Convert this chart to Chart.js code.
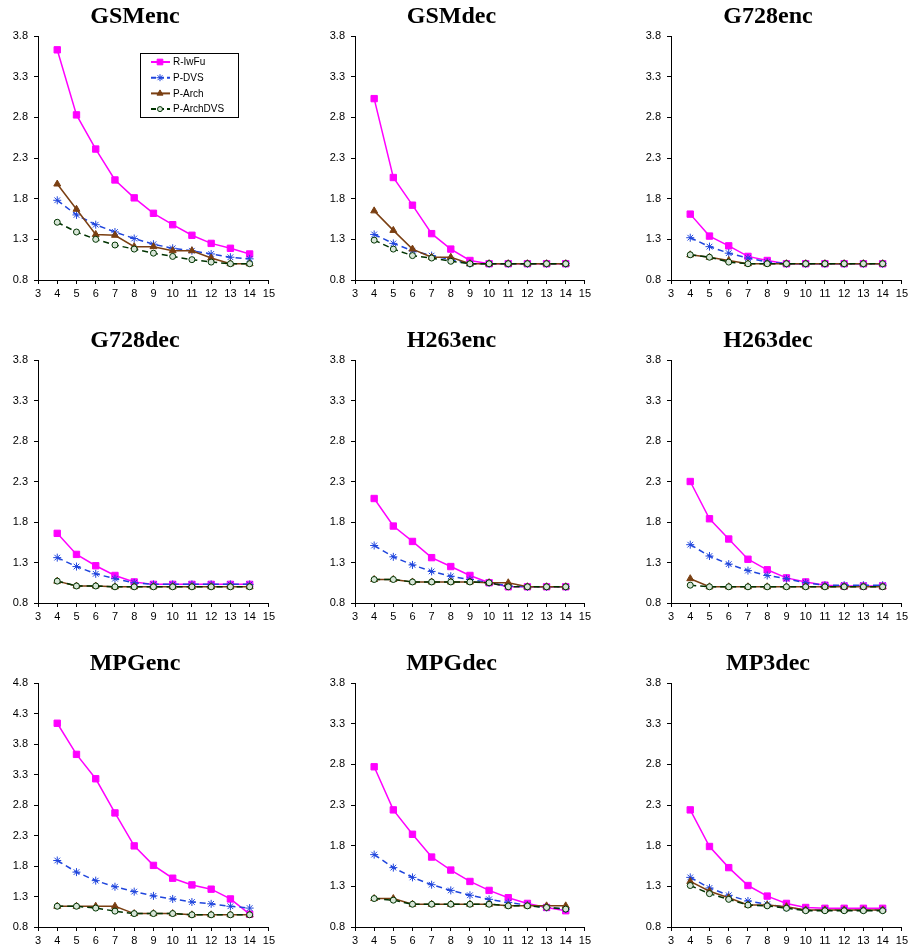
<!DOCTYPE html>
<html>
<head>
<meta charset="utf-8">
<title>Energy ratio by configuration</title>
<script src="https://cdn.jsdelivr.net/npm/chart.js@4/dist/chart.umd.min.js"></script>
<style>
  html, body { margin: 0; padding: 0; background: #fff; overflow: hidden; }
  body { width: 909px; height: 949px; position: relative; }
  .cell { position: absolute; }
</style>
</head>
<body>
<script>
// x positions shared by all panels
const xValues = [4, 5, 6, 7, 8, 9, 10, 11, 12, 13, 14];
const xTickValues = [3, 4, 5, 6, 7, 8, 9, 10, 11, 12, 13, 14, 15];
const yTickValues = [0.8, 1.3, 1.8, 2.3, 2.8, 3.3, 3.8];
const yTickValuesWide = [0.8, 1.3, 1.8, 2.3, 2.8, 3.3, 3.8, 4.3, 4.8];

const seriesNames = ['R-IwFu', 'P-DVS', 'P-Arch', 'P-ArchDVS'];

// GSMenc
const gsmencRIwFu     = [3.63, 2.83, 2.41, 2.03, 1.81, 1.62, 1.48, 1.35, 1.25, 1.19, 1.12];
const gsmencPDvs      = [1.78, 1.60, 1.48, 1.39, 1.31, 1.24, 1.19, 1.16, 1.12, 1.08, 1.06];
const gsmencPArch     = [1.98, 1.67, 1.36, 1.35, 1.21, 1.21, 1.16, 1.16, 1.07, 1.00, 1.00];
const gsmencPArchDvs  = [1.51, 1.39, 1.30, 1.23, 1.18, 1.13, 1.09, 1.05, 1.02, 1.00, 1.00];

// GSMdec
const gsmdecRIwFu     = [3.03, 2.06, 1.72, 1.37, 1.18, 1.04, 1.00, 1.00, 1.00, 1.00, 1.00];
const gsmdecPDvs      = [1.36, 1.25, 1.16, 1.10, 1.05, 1.00, 1.00, 1.00, 1.00, 1.00, 1.00];
const gsmdecPArch     = [1.65, 1.41, 1.18, 1.08, 1.08, 1.00, 1.00, 1.00, 1.00, 1.00, 1.00];
const gsmdecPArchDvs  = [1.29, 1.18, 1.10, 1.07, 1.03, 1.00, 1.00, 1.00, 1.00, 1.00, 1.00];

// G728enc
const g728encRIwFu    = [1.61, 1.34, 1.22, 1.09, 1.04, 1.00, 1.00, 1.00, 1.00, 1.00, 1.00];
const g728encPDvs     = [1.32, 1.21, 1.13, 1.07, 1.02, 1.00, 1.00, 1.00, 1.00, 1.00, 1.00];
const g728encPArch    = [1.11, 1.08, 1.04, 1.00, 1.00, 1.00, 1.00, 1.00, 1.00, 1.00, 1.00];
const g728encPArchDvs = [1.11, 1.08, 1.02, 1.00, 1.00, 1.00, 1.00, 1.00, 1.00, 1.00, 1.00];

// G728dec
const g728decRIwFu    = [1.66, 1.40, 1.26, 1.14, 1.06, 1.03, 1.03, 1.03, 1.03, 1.03, 1.03];
const g728decPDvs     = [1.36, 1.25, 1.16, 1.10, 1.05, 1.03, 1.03, 1.03, 1.03, 1.03, 1.03];
const g728decPArch    = [1.07, 1.01, 1.01, 1.00, 1.00, 1.00, 1.00, 1.00, 1.00, 1.00, 1.00];
const g728decPArchDvs = [1.07, 1.01, 1.01, 1.00, 1.00, 1.00, 1.00, 1.00, 1.00, 1.00, 1.00];

// H263enc
const h263encRIwFu    = [2.09, 1.75, 1.56, 1.36, 1.25, 1.14, 1.05, 1.00, 1.00, 1.00, 1.00];
const h263encPDvs     = [1.51, 1.37, 1.27, 1.19, 1.13, 1.09, 1.05, 1.01, 1.00, 1.00, 1.00];
const h263encPArch    = [1.09, 1.09, 1.06, 1.06, 1.06, 1.06, 1.05, 1.05, 1.00, 1.00, 1.00];
const h263encPArchDvs = [1.09, 1.09, 1.06, 1.06, 1.06, 1.06, 1.05, 1.00, 1.00, 1.00, 1.00];

// H263dec
const h263decRIwFu    = [2.30, 1.84, 1.59, 1.34, 1.21, 1.11, 1.06, 1.02, 1.01, 1.01, 1.01];
const h263decPDvs     = [1.52, 1.38, 1.28, 1.20, 1.14, 1.10, 1.05, 1.02, 1.02, 1.02, 1.02];
const h263decPArch    = [1.10, 1.00, 1.00, 1.00, 1.00, 1.00, 1.00, 1.00, 1.00, 1.00, 1.00];
const h263decPArchDvs = [1.02, 1.00, 1.00, 1.00, 1.00, 1.00, 1.00, 1.00, 1.00, 1.00, 1.00];

// MPGenc
const mpgencRIwFu     = [4.14, 3.63, 3.23, 2.67, 2.13, 1.81, 1.60, 1.49, 1.42, 1.26, 1.01];
const mpgencPDvs      = [1.89, 1.70, 1.56, 1.46, 1.38, 1.31, 1.26, 1.21, 1.18, 1.14, 1.11];
const mpgencPArch     = [1.14, 1.14, 1.14, 1.14, 1.02, 1.02, 1.02, 1.00, 1.00, 1.00, 1.00];
const mpgencPArchDvs  = [1.14, 1.14, 1.11, 1.06, 1.02, 1.02, 1.02, 1.00, 1.00, 1.00, 1.00];

// MPGdec
const mpgdecRIwFu     = [2.77, 2.24, 1.94, 1.66, 1.50, 1.36, 1.25, 1.16, 1.09, 1.04, 1.00];
const mpgdecPDvs      = [1.69, 1.53, 1.41, 1.32, 1.25, 1.19, 1.14, 1.10, 1.07, 1.04, 1.02];
const mpgdecPArch     = [1.15, 1.15, 1.08, 1.08, 1.08, 1.08, 1.08, 1.06, 1.06, 1.06, 1.06];
const mpgdecPArchDvs  = [1.15, 1.13, 1.08, 1.08, 1.08, 1.08, 1.08, 1.06, 1.06, 1.04, 1.02];

// MP3dec
const mp3decRIwFu     = [2.24, 1.79, 1.53, 1.31, 1.18, 1.09, 1.04, 1.03, 1.03, 1.03, 1.03];
const mp3decPDvs      = [1.41, 1.28, 1.19, 1.12, 1.08, 1.04, 1.01, 1.01, 1.01, 1.01, 1.01];
const mp3decPArch     = [1.36, 1.24, 1.16, 1.07, 1.07, 1.05, 1.01, 1.01, 1.01, 1.01, 1.01];
const mp3decPArchDvs  = [1.31, 1.21, 1.14, 1.07, 1.06, 1.03, 1.00, 1.00, 1.00, 1.00, 1.00];

const panels = [
  { title: 'GSMenc',  yTicks: yTickValues,     series: [gsmencRIwFu, gsmencPDvs, gsmencPArch, gsmencPArchDvs], legend: true },
  { title: 'GSMdec',  yTicks: yTickValues,     series: [gsmdecRIwFu, gsmdecPDvs, gsmdecPArch, gsmdecPArchDvs] },
  { title: 'G728enc', yTicks: yTickValues,     series: [g728encRIwFu, g728encPDvs, g728encPArch, g728encPArchDvs] },
  { title: 'G728dec', yTicks: yTickValues,     series: [g728decRIwFu, g728decPDvs, g728decPArch, g728decPArchDvs] },
  { title: 'H263enc', yTicks: yTickValues,     series: [h263encRIwFu, h263encPDvs, h263encPArch, h263encPArchDvs] },
  { title: 'H263dec', yTicks: yTickValues,     series: [h263decRIwFu, h263decPDvs, h263decPArch, h263decPArchDvs] },
  { title: 'MPGenc',  yTicks: yTickValuesWide, series: [mpgencRIwFu, mpgencPDvs, mpgencPArch, mpgencPArchDvs] },
  { title: 'MPGdec',  yTicks: yTickValues,     series: [mpgdecRIwFu, mpgdecPDvs, mpgdecPArch, mpgdecPArchDvs] },
  { title: 'MP3dec',  yTicks: yTickValues,     series: [mp3decRIwFu, mp3decPDvs, mp3decPArch, mp3decPArchDvs] }
];

// plot area edges in page pixels (left axis / right end, top / bottom)
const colEdges = [[38, 270], [355, 586], [671, 903]];
const rowEdges = [[36, 280], [360, 603], [683, 927]];
const Y_AXIS_W = 38, X_AXIS_H = 24, TITLE_H = 37, RIGHT_PAD = 8;

// look of each series
const styles = [
  { color: '#ff00ff', dash: [],     point: 'rect',     radius: 4.5, fill: '#ff00ff', width: 1.5, order: 4 },
  { color: '#1f45dd', dash: [6, 4], point: 'star',     radius: 4,   fill: '#1f45dd', width: 1.5, order: 3 },
  { color: '#7a3f12', dash: [],     point: 'triangle', radius: 4,   fill: '#7a3f12', width: 1.5, order: 2 },
  { color: '#003300', dash: [6, 4], point: 'circle',   radius: 3,   fill: '#d8e6d8', width: 1.5, order: 1 }
];

const legendBox = {
  id: 'legendBox',
  afterDraw(chart, args, opts) {
    if (!opts.show) return;
    const { ctx, chartArea } = chart;
    const bx = chartArea.left + 102, by = chartArea.top + 17, bw = 98, bh = 64;
    ctx.save();
    ctx.fillStyle = '#fff';
    ctx.fillRect(bx, by, bw, bh);
    ctx.strokeStyle = '#000';
    ctx.lineWidth = 1;
    ctx.strokeRect(bx + 0.5, by + 0.5, bw, bh);
    seriesNames.forEach((name, i) => {
      const st = styles[i];
      const y = by + 9 + i * 15.7;
      ctx.strokeStyle = st.color;
      ctx.lineWidth = 2;
      ctx.setLineDash(st.dash.length ? [5, 3] : []);
      ctx.beginPath();
      ctx.moveTo(bx + 11, y);
      ctx.lineTo(bx + 30, y);
      ctx.stroke();
      ctx.setLineDash([]);
      ctx.fillStyle = st.fill;
      ctx.strokeStyle = st.color;
      ctx.lineWidth = 1;
      Chart.helpers.drawPoint(ctx, { pointStyle: st.point, radius: st.radius - 0.5, borderWidth: 1, rotation: 0 }, bx + 20, y);
      ctx.fillStyle = '#000';
      ctx.font = '10px "Liberation Sans", Arial, sans-serif';
      ctx.textBaseline = 'middle';
      ctx.fillText(name, bx + 33, y + 0.5);
    });
    ctx.restore();
  }
};

panels.forEach((panel, idx) => {
  const [pl, pr] = colEdges[idx % 3];
  const [pt, pb] = rowEdges[Math.floor(idx / 3)];
  const left = pl - Y_AXIS_W;
  const top = pt - TITLE_H;
  const width = (pr - pl) + Y_AXIS_W + RIGHT_PAD;
  const height = (pb - pt) + TITLE_H + X_AXIS_H;

  const div = document.createElement('div');
  div.className = 'cell';
  div.style.left = left + 'px';
  div.style.top = top + 'px';
  div.style.width = width + 'px';
  div.style.height = height + 'px';
  const canvas = document.createElement('canvas');
  canvas.width = width;
  canvas.height = height;
  div.appendChild(canvas);
  document.body.appendChild(div);

  const datasets = panel.series.map((vals, i) => {
    const st = styles[i];
    return {
      label: seriesNames[i],
      data: xValues.map((x, k) => ({ x, y: vals[k] })),
      borderColor: st.color,
      borderWidth: st.width,
      borderDash: st.dash,
      pointStyle: st.point,
      pointRadius: st.radius,
      pointBorderWidth: 1,
      pointBorderColor: st.color,
      pointBackgroundColor: st.fill,
      tension: 0,
      fill: false,
      order: st.order
    };
  });

  const yMin = panel.yTicks[0], yMax = panel.yTicks[panel.yTicks.length - 1];

  new Chart(canvas, {
    type: 'line',
    data: { datasets },
    options: {
      responsive: false,
      animation: false,
      layout: { padding: { left: 0, right: RIGHT_PAD, top: 0, bottom: 0 } },
      plugins: {
        legend: { display: false },
        tooltip: { enabled: false },
        title: {
          display: true,
          text: panel.title,
          color: '#000',
          font: { family: '"Liberation Serif", "Times New Roman", serif', size: 24, weight: 'bold', lineHeight: 1.2 },
          padding: { top: 3, bottom: 5.2 }
        },
        legendBox: { show: !!panel.legend }
      },
      scales: {
        x: {
          type: 'linear',
          min: 3,
          max: 15,
          afterBuildTicks: s => { s.ticks = xTickValues.map(v => ({ value: v })); },
          afterFit: s => { s.height = X_AXIS_H; },
          grid: { drawOnChartArea: false, drawTicks: true, tickLength: 4, tickColor: '#000', color: '#000' },
          border: { color: '#000', width: 1 },
          ticks: {
            color: '#000',
            padding: 3,
            maxRotation: 0,
            autoSkip: false,
            font: { family: '"Liberation Sans", Arial, sans-serif', size: 11 }
          }
        },
        y: {
          type: 'linear',
          min: yMin,
          max: yMax,
          afterBuildTicks: s => { s.ticks = panel.yTicks.map(v => ({ value: v })); },
          afterFit: s => { s.width = Y_AXIS_W; },
          grid: { drawOnChartArea: false, drawTicks: true, tickLength: 4, tickColor: '#000', color: '#000' },
          border: { color: '#000', width: 1 },
          ticks: {
            color: '#000',
            padding: 6,
            autoSkip: false,
            callback: v => Number(v).toFixed(1),
            font: { family: '"Liberation Sans", Arial, sans-serif', size: 11 }
          }
        }
      }
    },
    plugins: [legendBox]
  });
});
</script>
</body>
</html>
